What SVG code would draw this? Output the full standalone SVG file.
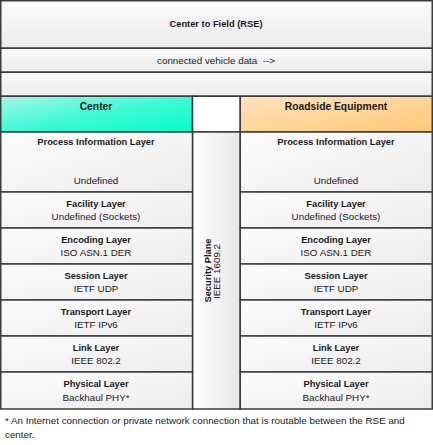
<svg xmlns="http://www.w3.org/2000/svg" width="433" height="445" viewBox="0 0 433 445">
<defs>
<linearGradient id="gTop" x1="0" y1="0" x2="0" y2="1"><stop offset="0" stop-color="#fbfbfb"/><stop offset="1" stop-color="#ebebeb"/></linearGradient>
<linearGradient id="gCell" x1="0" y1="0" x2="1" y2="1"><stop offset="0" stop-color="#fdfdfd"/><stop offset="1" stop-color="#ececec"/></linearGradient>
<linearGradient id="gSec" x1="0" y1="0" x2="1" y2="0"><stop offset="0" stop-color="#ffffff"/><stop offset="1" stop-color="#e6e6e6"/></linearGradient>
<linearGradient id="gCenter" x1="0" y1="0" x2="1" y2="1"><stop offset="0" stop-color="#a6f7e6"/><stop offset="0.5" stop-color="#3ff9d6"/><stop offset="1" stop-color="#00ffcc"/></linearGradient>
<linearGradient id="gRse" x1="0" y1="0" x2="1" y2="1"><stop offset="0" stop-color="#ffe3bc"/><stop offset="1" stop-color="#ffc878"/></linearGradient>
</defs>
<style>
.b{stroke:#3c3c3c;stroke-width:1.5}
.t{font-family:"Liberation Sans",Arial,sans-serif;font-size:9.8px;fill:#1a1a1a;text-anchor:middle}
.bd{font-weight:bold;font-size:9.3px}
.h{font-size:10.3px}
.f{text-anchor:start}
</style>
<rect width="433" height="445" fill="#ffffff"/>
<g id="title"><rect class="b" x="0.75" y="0.75" width="431.5" height="47.5" fill="url(#gTop)"/><text class="t bd" x="216" y="27">Center to Field (RSE)</text></g>
<g id="flow"><rect class="b" x="0.75" y="48.25" width="431.5" height="24" fill="url(#gTop)"/><text class="t" x="216" y="63.5">connected vehicle data&#160;&#160;--&gt;</text></g>
<g id="blank"><rect class="b" x="0.75" y="72.25" width="431.5" height="24" fill="url(#gTop)"/></g>
<g id="center"><rect class="b" x="0.75" y="96.25" width="191.75" height="35.75" fill="url(#gCenter)"/><text class="t bd h" x="96" y="110">Center</text></g>
<g id="gap"><rect class="b" x="192.5" y="96.25" width="47.75" height="35.75" fill="#ffffff"/></g>
<g id="rse"><rect class="b" x="240.25" y="96.25" width="192" height="35.75" fill="url(#gRse)"/><text class="t bd h" x="336" y="110">Roadside Equipment</text></g>
<g id="security"><rect class="b" x="192.5" y="132" width="47.75" height="277" fill="url(#gSec)"/>
<text class="t bd" transform="translate(211,270.5) rotate(-90)">Security Plane</text>
<text class="t" transform="translate(220,271.5) rotate(-90)">IEEE 1609.2</text></g>
<g id="c-process"><rect class="b" x="0.75" y="132" width="191.75" height="60" fill="url(#gCell)"/><text class="t bd" x="96" y="144.5">Process Information Layer</text><text class="t" x="96" y="183.5">Undefined</text></g>
<g id="c-facility"><rect class="b" x="0.75" y="192" width="191.75" height="36" fill="url(#gCell)"/><text class="t bd" x="96" y="206.5">Facility Layer</text><text class="t" x="96" y="220">Undefined (Sockets)</text></g>
<g id="c-encoding"><rect class="b" x="0.75" y="228" width="191.75" height="36" fill="url(#gCell)"/><text class="t bd" x="96" y="242.5">Encoding Layer</text><text class="t" x="96" y="256">ISO ASN.1 DER</text></g>
<g id="c-session"><rect class="b" x="0.75" y="264" width="191.75" height="36" fill="url(#gCell)"/><text class="t bd" x="96" y="278.5">Session Layer</text><text class="t" x="96" y="292">IETF UDP</text></g>
<g id="c-transport"><rect class="b" x="0.75" y="300" width="191.75" height="36" fill="url(#gCell)"/><text class="t bd" x="96" y="314.5">Transport Layer</text><text class="t" x="96" y="328">IETF IPv6</text></g>
<g id="c-link"><rect class="b" x="0.75" y="336" width="191.75" height="36" fill="url(#gCell)"/><text class="t bd" x="96" y="350.5">Link Layer</text><text class="t" x="96" y="364">IEEE 802.2</text></g>
<g id="c-physical"><rect class="b" x="0.75" y="372" width="191.75" height="37" fill="url(#gCell)"/><text class="t bd" x="96" y="387">Physical Layer</text><text class="t" x="96" y="400.5">Backhaul PHY*</text></g>
<g id="r-process"><rect class="b" x="240.25" y="132" width="192" height="60" fill="url(#gCell)"/><text class="t bd" x="336" y="144.5">Process Information Layer</text><text class="t" x="336" y="183.5">Undefined</text></g>
<g id="r-facility"><rect class="b" x="240.25" y="192" width="192" height="36" fill="url(#gCell)"/><text class="t bd" x="336" y="206.5">Facility Layer</text><text class="t" x="336" y="220">Undefined (Sockets)</text></g>
<g id="r-encoding"><rect class="b" x="240.25" y="228" width="192" height="36" fill="url(#gCell)"/><text class="t bd" x="336" y="242.5">Encoding Layer</text><text class="t" x="336" y="256">ISO ASN.1 DER</text></g>
<g id="r-session"><rect class="b" x="240.25" y="264" width="192" height="36" fill="url(#gCell)"/><text class="t bd" x="336" y="278.5">Session Layer</text><text class="t" x="336" y="292">IETF UDP</text></g>
<g id="r-transport"><rect class="b" x="240.25" y="300" width="192" height="36" fill="url(#gCell)"/><text class="t bd" x="336" y="314.5">Transport Layer</text><text class="t" x="336" y="328">IETF IPv6</text></g>
<g id="r-link"><rect class="b" x="240.25" y="336" width="192" height="36" fill="url(#gCell)"/><text class="t bd" x="336" y="350.5">Link Layer</text><text class="t" x="336" y="364">IEEE 802.2</text></g>
<g id="r-physical"><rect class="b" x="240.25" y="372" width="192" height="37" fill="url(#gCell)"/><text class="t bd" x="336" y="387">Physical Layer</text><text class="t" x="336" y="400.5">Backhaul PHY*</text></g>
<g id="connectors"></g>
<g id="footnote"><text class="t f" x="5" y="424">* An Internet connection or private network connection that is routable between the RSE and</text><text class="t f" x="5" y="437.5">center.</text></g>
</svg>
